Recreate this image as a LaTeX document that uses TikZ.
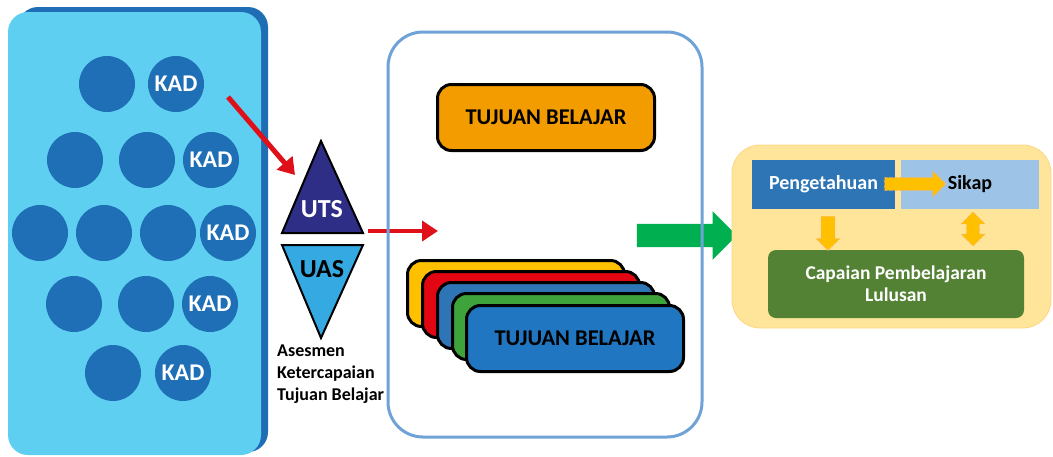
\documentclass[tikz,border=0pt]{standalone}
\usepackage{fontspec}
\setmainfont{Carlito}
\usetikzlibrary{calc,arrows.meta,shapes.arrows}
\definecolor{panelsky}{HTML}{5FCFF1}
\definecolor{paneldark}{HTML}{1F6DB4}
\definecolor{kadblue}{HTML}{1E6FB5}
\definecolor{utsnavy}{HTML}{2E2E86}
\definecolor{uasblue}{HTML}{35A9E1}
\definecolor{arrowred}{HTML}{E0101A}
\definecolor{boxline}{HTML}{6FA3D8}
\definecolor{tujuanorange}{HTML}{F39C00}
\definecolor{cardyellow}{HTML}{FFC000}
\definecolor{cardred}{HTML}{E20613}
\definecolor{cardblue}{HTML}{2E75B6}
\definecolor{cardgreen}{HTML}{3EA33A}
\definecolor{cardfront}{HTML}{2076C0}
\definecolor{bigarrow}{HTML}{00B050}
\definecolor{cplpanel}{HTML}{FEE599}
\definecolor{pengblue}{HTML}{2E75B6}
\definecolor{sikapblue}{HTML}{9DC3E6}
\definecolor{cplgreen}{HTML}{548235}
\definecolor{smallarrow}{HTML}{FFC000}

\begin{document}
\begin{tikzpicture}[x=1pt, y=-1pt, font=\bfseries,
    kad node/.style={circle,fill=kadblue,minimum size=56pt,inner sep=0pt,text=white,
                     font=\bfseries\fontsize{24}{26}\selectfont},
    red arrow/.style={draw=arrowred,line width=5pt,-{Triangle[length=16pt,width=20pt]}},
    card node/.style={draw=black,line width=3pt,rounded corners=14pt,minimum width=217pt,
                      minimum height=66pt,inner sep=0pt,anchor=north west,
                      font=\bfseries\fontsize{22.5}{24}\selectfont},
    block arrow/.style={single arrow,fill=#1,inner xsep=0pt,draw=none},
    small arrow/.style={fill=smallarrow,draw=orange!60,densely dashed,line width=0.6pt},
    cpl node/.style={minimum height=49pt,inner sep=0pt,font=\bfseries\fontsize{20}{22}\selectfont}]
    \useasboundingbox (0,0) rectangle (1053,456);

    % left panel with the KAD circles
    \fill[paneldark,rounded corners=20pt] (18,7) rectangle (268,452);
    \fill[panelsky,rounded corners=20pt] (8,12) rectangle (261,455);

    \node[kad node] (c11) at (107,84) {};
    \node[kad node] (k1) at (176,84) {KAD};
    \node[kad node] (c21) at (75,160) {};
    \node[kad node] (c22) at (147,160) {};
    \node[kad node] (k2) at (211,160) {KAD};
    \node[kad node] (c31) at (40,233) {};
    \node[kad node] (c32) at (104,233) {};
    \node[kad node] (c33) at (168,233) {};
    \node[kad node] (k3) at (228,233) {KAD};
    \node[kad node] (c41) at (74,304) {};
    \node[kad node] (c42) at (146,304) {};
    \node[kad node] (k4) at (210,304) {KAD};
    \node[kad node] (c51) at (113,373) {};
    \node[kad node] (k5) at (183,373) {KAD};

    % UTS / UAS triangles
    \draw[fill=utsnavy,line width=2pt,line join=miter] (321,141) -- (363,233) -- (282,233) -- cycle;
    \node[text=white,font=\bfseries\fontsize{26}{28}\selectfont] (uts) at (322,209) {UTS};
    \draw[fill=uasblue,line width=2pt,line join=miter] (282,245) -- (363,245) -- (321,338) -- cycle;
    \node[font=\bfseries\fontsize{26}{28}\selectfont] (uas) at (322,269) {UAS};
    \node[anchor=north west,align=left,inner sep=0pt,font=\bfseries\fontsize{18}{22}\selectfont]
        (asesmen) at (277,345) {Asesmen\\Ketercapaian\\Tujuan Belajar};

    \coordinate (kad out) at (228,97);
    \coordinate (uts in) at (295,175);
    \coordinate (uts out) at (368,231);
    \coordinate (tb in) at (438,231);
    \draw[red arrow] (kad out) -- (uts in);
    \draw[red arrow,line width=4.5pt] (uts out) -- (tb in);

    % middle box with the learning goals
    \node[block arrow=bigarrow,minimum height=100pt,inner ysep=11.5pt,
          single arrow head extend=12.5pt] (green) at (681,235.5) {};
    \draw[boxline,line width=3pt,rounded corners=35pt] (388,32) rectangle (702,437);
    \node[card node,fill=tujuanorange] (tujuan) at (436,83) {TUJUAN BELAJAR};
    \node[card node,fill=cardyellow] (card1) at (406,259) {};
    \node[card node,fill=cardred] (card2) at (421,270) {};
    \node[card node,fill=cardblue] (card3) at (436,281) {};
    \node[card node,fill=cardgreen] (card4) at (451,292) {};
    \node[card node,fill=cardfront] (card5) at (465,304) {TUJUAN BELAJAR};

    % right panel
    \draw[cplpanel!85!orange,fill=cplpanel,line width=0.8pt,rounded corners=28pt] (732,145) rectangle (1051,328);
    \node[cpl node,fill=pengblue,text=white,minimum width=143pt] (peng) at (823.5,184.5) {Pengetahuan};
    \node[cpl node,fill=sikapblue,minimum width=138pt] (sikap) at (970,184.5) {Sikap};
    \node[fill=cplgreen,text=white,rounded corners=8pt,minimum width=256pt,minimum height=68pt,
          align=center,font=\bfseries\fontsize{19.5}{22}\selectfont] (cpl) at (896,284)
          {Capaian Pembelajaran\\Lulusan};

    \node[single arrow,small arrow,minimum height=61pt,inner xsep=0pt,inner ysep=6pt,
          single arrow head extend=6.5pt] (a1) at (912,184) {};
    \node[single arrow,small arrow,shape border rotate=270,minimum height=34pt,inner ysep=0pt,
          inner xsep=6.5pt,single arrow head extend=5pt] (a2) at (828,230) {};
    \node[double arrow,small arrow,shape border rotate=90,minimum height=34pt,inner ysep=0pt,
          inner xsep=6pt,double arrow head extend=5.5pt] (a3) at (973,229) {};
\end{tikzpicture}
\end{document}
